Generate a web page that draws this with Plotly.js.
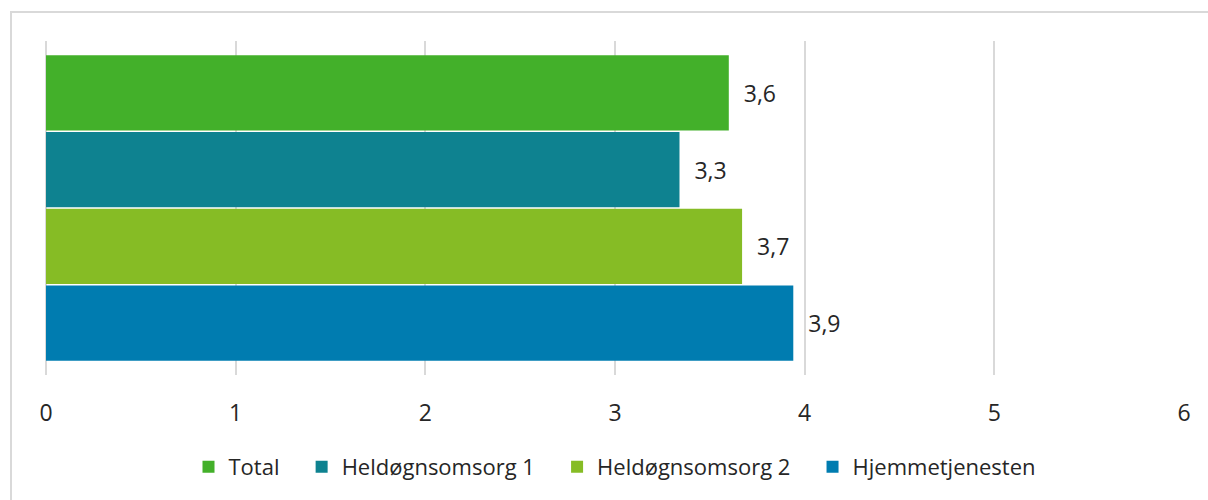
<!DOCTYPE html>
<html>
<head>
<meta charset="utf-8">
<script src="https://cdn.plot.ly/plotly-3.0.1.min.js"></script>
<style>
html,body{margin:0;padding:0;background:#fff;overflow:hidden;}
#frame{position:absolute;left:10px;top:11px;width:1300px;height:600px;border:2px solid #d9d9d9;box-sizing:border-box;}
#chart{position:absolute;left:0;top:0;width:1208px;height:500px;}
</style>
</head>
<body>
<div id="frame"></div>
<div id="chart"></div>
<script>
const category = [''];
const seriesNames = ['Total', 'Heldøgnsomsorg 1', 'Heldøgnsomsorg 2', 'Hjemmetjenesten'];
const totalValues = [3.6];
const held1Values = [3.34];
const held2Values = [3.67];
const hjemValues = [3.94];
const xTicks = [0, 1, 2, 3, 4, 5, 6];
const colors = ['#43b02a', '#0e8290', '#86bc25', '#007cb0'];

const seriesValues = [totalValues, held1Values, held2Values, hjemValues];
const pad = '\u00a0\u00a0\u00a0';
const traces = seriesNames.map((name, i) => ({
  type: 'bar',
  orientation: 'h',
  name: i < seriesNames.length - 1 ? name + pad : name,
  y: category,
  x: seriesValues[i],
  marker: {color: colors[i]},
  texttemplate: '\u00a0\u00a0%{x:.1f}',
  textposition: 'outside',
  cliponaxis: false,
  textfont: {family: 'Open Sans', size: 23, color: '#262626'},
  hoverinfo: 'x+name'
}));

const layout = {
  width: 1208,
  height: 500,
  paper_bgcolor: 'rgba(0,0,0,0)',
  plot_bgcolor: 'rgba(0,0,0,0)',
  separators: ', ',
  barmode: 'group',
  bargap: 0.08,
  bargroupgap: 0.02,
  margin: {l: 46, r: 24, t: 41, b: 125},
  showlegend: true,
  legend: {
    orientation: 'h',
    x: 0.5, xanchor: 'center',
    y: -0.275, yanchor: 'middle',
    font: {family: 'Open Sans', size: 22, color: '#262626'},
    traceorder: 'normal'
  },
  xaxis: {
    range: [0, 6],
    tickvals: xTicks,
    ticktext: xTicks.map(String),
    showgrid: true,
    gridcolor: '#d9d9d9',
    gridwidth: 2,
    zeroline: true,
    zerolinecolor: '#d9d9d9',
    zerolinewidth: 2,
    showline: false,
    ticks: '',
    ticklabelstandoff: 22,
    tickfont: {family: 'Open Sans', size: 23, color: '#262626'},
    fixedrange: true
  },
  yaxis: {
    autorange: 'reversed',
    showticklabels: false,
    showgrid: false,
    zeroline: false,
    showline: false,
    ticks: '',
    fixedrange: true
  }
};

Plotly.newPlot('chart', traces, layout, {displayModeBar: false, staticPlot: true});
</script>
</body>
</html>
